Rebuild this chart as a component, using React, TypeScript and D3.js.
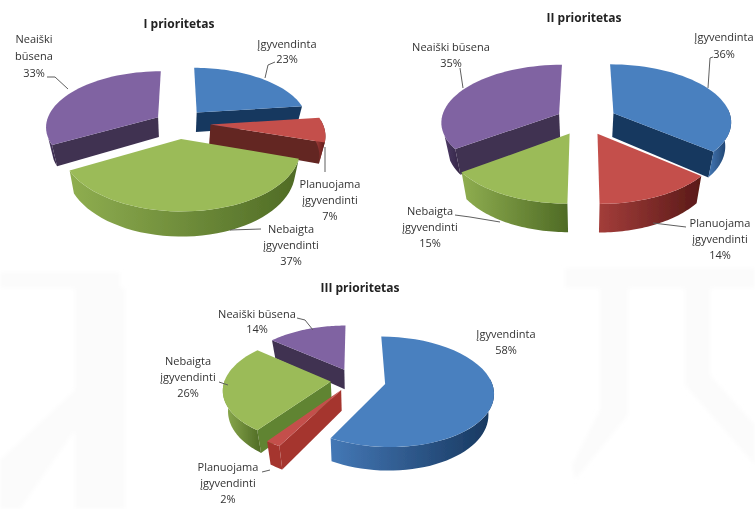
import React, { useEffect, useRef } from 'react';
import * as d3 from 'd3';

const WIDTH = 755;
const HEIGHT = 509;

const categories = ['Įgyvendinta', 'Planuojama įgyvendinti', 'Nebaigta įgyvendinti', 'Neaiški būsena'];
const valuesI = [23, 7, 37, 33];
const valuesII = [36, 14, 15, 35];
const valuesIII = [58, 2, 26, 14];

const topColors = ['#4a80bf', '#c4504c', '#9bbb59', '#8064a2'];
const sideColors = ['#17375e', '#632523', '#618430', '#3f3151'];
const wallLight = ['#4478b6', '#a33d3a', '#8fae50', '#4d3a66'];
const wallDark = ['#17375e', '#5a1a18', '#4f6b25', '#332545'];

// label text per slice: lines are drawn centred on the anchor
const labelLinesI = [['Įgyvendinta', '23%'], ['Planuojama', 'įgyvendinti', '7%'], ['Nebaigta', 'įgyvendinti', '37%'], ['Neaiški', 'būsena', '33%']];
const labelLinesII = [['Įgyvendinta', '36%'], ['Planuojama', 'įgyvendinti', '14%'], ['Nebaigta', 'įgyvendinti', '15%'], ['Neaiški būsena', '35%']];
const labelLinesIII = [['Įgyvendinta', '58%'], ['Planuojama', 'įgyvendinti', '2%'], ['Nebaigta', 'įgyvendinti', '26%'], ['Neaiški būsena', '14%']];

// faint watermark behind the third pie
const watermark = [
  'M565 268H755V288H565Z', 'M600 288H628V415L575 480L572 465L600 410Z', 'M685 288H710V375L755 425V465L685 385Z',
  'M0 272H120V288H0Z', 'M75 288H125V509H75Z', 'M0 509L0 460L75 390L75 430L20 509Z',
];

const pies = [
  {
    title: 'I prioritetas', titleAt: [179, 24], values: valuesI, labels: labelLinesI,
    cx: 178, cy: 123, rx: 112, ry: 55, p: 0.16, depth: 20, explode: [0.26, 0.29, 0.28, 0.21], thinSide: null, wallTo: 248,
    labelAt: [[287, 45], [330, 185], [291, 230], [34, 40]], lineStep: [15, 16, 16, 17],
    leaders: [
      [[265, 78], [268, 65], [275, 62]],
      [[325, 147], [325, 172]],
      [[230, 230], [261, 229]],
      [[68, 89], [55, 77], [47, 77]],
    ],
  },
  {
    title: 'II prioritetas', titleAt: [584, 18], values: valuesII, labels: labelLinesII,
    cx: 584, cy: 120, rx: 118, ry: 57, p: 0.13, depth: 24, explode: [0.28, 0.26, 0.26, 0.24], thinSide: null, wallTo: 248,
    labelAt: [[724, 38], [720, 224], [430, 212], [451, 48]], lineStep: [17, 16, 16, 16],
    leaders: [
      [[708, 88], [710, 58], [713, 57]],
      [[653, 223], [686, 227]],
      [[500, 222], [470, 217], [455, 215]],
      [[463, 88], [460, 68]],
    ],
  },
  {
    title: 'III prioritetas', titleAt: [360, 288], values: valuesIII, labels: labelLinesIII,
    cx: 354, cy: 380, rx: 106, ry: 53, p: 0.14, depth: 20, explode: [0.3, 0.22, 0.22, 0.22], thinSide: '#a5352f', wallTo: 272,
    labelAt: [[506, 335], [228, 468], [188, 362], [257, 315]], lineStep: [16, 16, 16, 15],
    leaders: [
      null,
      [[270, 470], [262, 472]],
      [[228, 385], [219, 382]],
      [[313, 330], [305, 320], [297, 318]],
    ],
  },
];

const rad = (deg: number) => deg * Math.PI / 180;

export default function App() {
  const svgRef = useRef<SVGSVGElement>(null);

  useEffect(() => {
    if (!svgRef.current) return;
    const svg = d3.select(svgRef.current);
    svg.html('');

    const defs = svg.append('defs');
    defs.append('filter').attr('id', 'soft').append('feGaussianBlur').attr('stdDeviation', 0.55);
    defs.append('filter').attr('id', 'softer').append('feGaussianBlur').attr('stdDeviation', 2);
    categories.forEach((_, i) => {
      const grad = defs.append('linearGradient').attr('id', `wall-${i}`);
      grad.append('stop').attr('offset', '0%').attr('stop-color', wallLight[i]);
      grad.append('stop').attr('offset', '100%').attr('stop-color', wallDark[i]);
    });

    svg.append('g').attr('filter', 'url(#softer)')
      .selectAll('path').data(watermark).enter().append('path')
      .attr('d', d => d)
      .attr('fill', '#fbfbfb');

    const root = svg.append('g').attr('filter', 'url(#soft)');
    const pieGen = d3.pie<number>().sort(null);
    const line = d3.line<[number, number]>();

    pies.forEach(chart => {
      const arcs = pieGen(chart.values).map((a, i) => ({ ...a, i, mid: (a.startAngle + a.endAngle) / 2 }));

      // disc coordinates to screen, the back of the pie is smaller than the front
      // and the underside is a little narrower than the top
      const project = (u: number, v: number, drop = 0): [number, number] => {
        const s = 1 / (1 + chart.p * v);
        const narrow = drop > 0 ? 0.96 : 1;
        return [chart.cx + chart.rx * u * s * narrow, chart.cy - chart.ry * v * s + drop * s];
      };

      const g = root.append('g');
      // back slices first
      const order = [...arcs].sort((a, b) => Math.cos(b.mid) - Math.cos(a.mid));

      order.forEach(a => {
        const e = chart.explode[a.i];
        const ou = e * Math.sin(a.mid);
        const ov = e * Math.cos(a.mid);
        const angles = (from: number, to: number) => d3.range(0, 41).map(k => from + (to - from) * k / 40);
        const rimAt = (t: number, drop: number) => project(ou + Math.sin(t), ov + Math.cos(t), drop);
        const apex = (drop: number) => project(ou, ov, drop);
        const thin = chart.thinSide && a.i === 1;

        // radial cut faces, only the ones that look towards the viewer
        const faces = [
          { t: a.startAngle, show: Math.sin(a.startAngle) < -0.01 },
          { t: a.endAngle, show: Math.sin(a.endAngle) > 0.01 },
        ];
        faces.filter(f => f.show).forEach(f => {
          g.append('path')
            .attr('d', line([apex(0), rimAt(f.t, 0), rimAt(f.t, chart.depth), apex(chart.depth)]) + 'Z')
            .attr('fill', thin ? chart.thinSide! : sideColors[a.i]);
        });

        // outer wall, front part of the rim
        const wallFrom = Math.max(a.startAngle, rad(85));
        const wallTo = Math.min(a.endAngle, rad(chart.wallTo));
        if (wallTo > wallFrom) {
          const ts = angles(wallFrom, wallTo);
          const upper = ts.map(t => rimAt(t, 0));
          const lower = ts.map(t => rimAt(t, chart.depth)).reverse();
          g.append('path')
            .attr('d', line([...upper, ...lower]) + 'Z')
            .attr('fill', thin ? chart.thinSide! : `url(#wall-${a.i})`);
        }

        g.append('path')
          .attr('d', line([apex(0), ...angles(a.startAngle, a.endAngle).map(t => rimAt(t, 0))]) + 'Z')
          .attr('fill', topColors[a.i]);
      });

      chart.leaders.forEach(points => {
        if (!points) return;
        g.append('path')
          .attr('d', line(points as [number, number][]))
          .attr('fill', 'none')
          .attr('stroke', '#5f5f5f')
          .attr('stroke-width', 1);
      });

      g.append('text')
        .attr('x', chart.titleAt[0])
        .attr('y', chart.titleAt[1] + 4)
        .attr('text-anchor', 'middle')
        .attr('font-weight', 700)
        .attr('font-size', 12)
        .attr('fill', '#222')
        .text(chart.title);

      chart.labels.forEach((lines, i) => {
        const [x, y] = chart.labelAt[i];
        lines.forEach((text, k) => {
          g.append('text')
            .attr('x', x)
            .attr('y', y + 3 + k * chart.lineStep[i])
            .attr('text-anchor', 'middle')
            .attr('font-size', 11)
            .attr('fill', '#333')
            .text(text);
        });
      });
    });
  }, []);

  return (
    <svg
      ref={svgRef}
      width={WIDTH}
      height={HEIGHT}
      style={{ position: 'absolute', left: 0, top: 0, background: '#fff', fontFamily: '"Open Sans", sans-serif' }}
    />
  );
}
